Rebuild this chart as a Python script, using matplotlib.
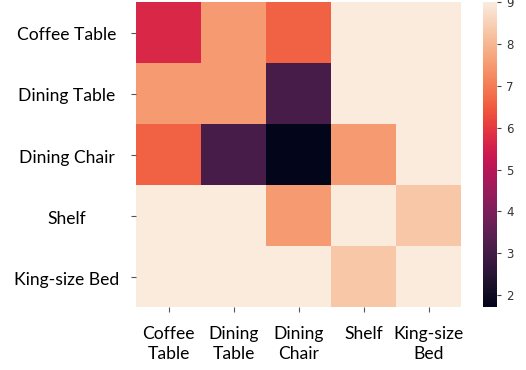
import numpy as np
import matplotlib
matplotlib.use("Agg")
import matplotlib.pyplot as plt
import matplotlib.transforms as mtrans
import seaborn as sns

row_labels = ["Coffee Table", "Dining Table", "Dining Chair", "Shelf", "King-size Bed"]
col_labels = ["Coffee\nTable", "Dining\nTable", "Dining\nChair", "Shelf", "King-size\nBed"]
values = [
    [5.7, 7.5, 6.6, 9.0, 9.0],
    [7.5, 7.5, 3.1, 9.0, 9.0],
    [6.6, 3.1, 1.72, 7.5, 9.0],
    [9.0, 9.0, 7.5, 9.0, 8.3],
    [9.0, 9.0, 9.0, 8.3, 9.0],
]

W, H = 526, 370
fig = plt.figure(figsize=(W / 100, H / 100), dpi=100)
ax = fig.add_axes([136 / W, 1 - 307 / H, 325 / W, 305 / H])
cax = fig.add_axes([483 / W, 1 - 307 / H, 14 / W, 305 / H])

data = np.array(values)
sns.heatmap(data, ax=ax, cbar_ax=cax, cmap="rocket", vmin=1.72, vmax=9.0)

font = ["Lato", "DejaVu Sans"]
fs = 12.6
ax.set_xticks(np.arange(len(col_labels)) + 0.5)
ax.set_xticklabels(col_labels, rotation=0, fontsize=fs, family=font, linespacing=1.35)
ax.set_yticks(np.arange(len(row_labels)) + 0.5)
ax.set_yticklabels([""] * len(row_labels))
ax.tick_params(axis="x", length=3.5, color="#555555", pad=10)
ax.tick_params(axis="y", length=3.5, color="#555555")

trans = mtrans.blended_transform_factory(fig.transFigure, ax.transData) + \
    mtrans.ScaledTranslation(0, -3 / 100, fig.dpi_scale_trans)
for i, lab in enumerate(row_labels):
    fig.text(67 / W, i + 0.5, lab, transform=trans, ha="center", va="center",
             fontsize=fs, family=font)

cax.set_yticks([2, 3, 4, 5, 6, 7, 8, 9])
cax.tick_params(labelsize=8.5, length=3, color="#444444")
for t in cax.get_yticklabels():
    t.set_color("#333333")

fig.savefig("out.png", dpi=100)
